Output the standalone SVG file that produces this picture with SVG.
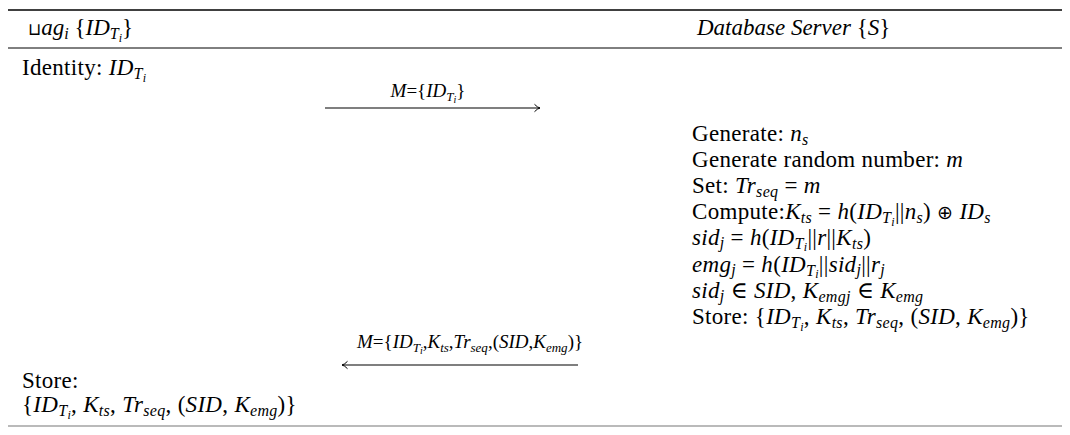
<svg xmlns="http://www.w3.org/2000/svg" width="1070" height="435" viewBox="0 0 1070 435">
  <style>
    text { font-family: "Liberation Serif", "DejaVu Serif", serif; font-size: 23px; letter-spacing: 0.3px; fill: #000; }
    text.hd { letter-spacing: 0; }
    .m { font-style: italic; }
    .s1 { font-size: 16px; }
    .s2 { font-size: 12px; }
    text.lbl { font-size: 19px; letter-spacing: 0; }
    .l1 { font-size: 13px; }
    .l2 { font-size: 10px; }
    .sym { font-family: "DejaVu Sans", sans-serif; font-style: normal; }
    .cup { font-size: 17px; }
    .oplus { font-size: 19px; }
    .rule { stroke: #000; }
    .msg { stroke: #000; stroke-width: 1.2; fill: none; marker-end: url(#tip); }
  </style>
  <defs>
    <marker id="tip" viewBox="0 0 10 10" refX="9.5" refY="5" markerWidth="10" markerHeight="10" markerUnits="userSpaceOnUse" orient="auto">
      <path d="M4,1.3 Q7,4.5 9.5,5 Q7,5.5 4,8.7" fill="none" stroke="#000" stroke-width="1"/>
    </marker>
  </defs>
  <rect width="1070" height="435" fill="#fff"/>

  <!-- table rules -->
  <g id="rules">
    <line class="rule" x1="8" y1="10" x2="1062" y2="10" stroke-width="1.6"/>
    <line class="rule" x1="8" y1="48" x2="1062" y2="48" stroke-width="1"/>
    <line x1="8" y1="426" x2="1062" y2="426" stroke="#777" stroke-width="1.2"/>
  </g>

  <!-- left party: tag -->
  <g id="tag">
    <text class="hd" x="28" y="35"><tspan class="sym cup">⊔</tspan><tspan class="m">ag</tspan><tspan class="m s1" dy="4">i</tspan><tspan dy="-4"> {</tspan><tspan class="m">ID</tspan><tspan class="m s1" dy="4">T</tspan><tspan class="m s2" dy="3">i</tspan><tspan dy="-7">}</tspan></text>
    <text x="22" y="75">Identity: <tspan class="m">ID</tspan><tspan class="m s1" dy="4">T</tspan><tspan class="m s2" dy="3">i</tspan></text>
    <text x="22" y="388">Store:</text>
    <text x="22" y="412">{<tspan class="m">ID</tspan><tspan class="m s1" dy="4">T</tspan><tspan class="m s2" dy="3">i</tspan><tspan dy="-7">, </tspan><tspan class="m">K</tspan><tspan class="m s1" dy="4">ts</tspan><tspan dy="-4">, </tspan><tspan class="m">Tr</tspan><tspan class="m s1" dy="4">seq</tspan><tspan dy="-4">, (</tspan><tspan class="m">SID</tspan>, <tspan class="m">K</tspan><tspan class="m s1" dy="4">emg</tspan><tspan dy="-4">)}</tspan></text>
  </g>

  <!-- right party: database server -->
  <g id="server">
    <text class="hd m" x="697" y="35">Database Server <tspan font-style="normal">{</tspan>S<tspan font-style="normal">}</tspan></text>
    <text x="692" y="141">Generate: <tspan class="m">n</tspan><tspan class="m s1" dy="4">s</tspan></text>
    <text x="692" y="167">Generate random number: <tspan class="m">m</tspan></text>
    <text x="692" y="193">Set: <tspan class="m">Tr</tspan><tspan class="m s1" dy="4">seq</tspan><tspan dy="-4"> = </tspan><tspan class="m">m</tspan></text>
    <text x="692" y="219">Compute:<tspan class="m">K</tspan><tspan class="m s1" dy="4">ts</tspan><tspan dy="-4"> = </tspan><tspan class="m">h</tspan>(<tspan class="m">ID</tspan><tspan class="m s1" dy="4">T</tspan><tspan class="m s2" dy="3">i</tspan><tspan dy="-7">||</tspan><tspan class="m">n</tspan><tspan class="m s1" dy="4">s</tspan><tspan dy="-4">) </tspan><tspan class="sym oplus">⊕</tspan> <tspan class="m">ID</tspan><tspan class="m s1" dy="4">s</tspan></text>
    <text x="692" y="245"><tspan class="m">sid</tspan><tspan class="m s1" dy="3">j</tspan><tspan dy="-3"> = </tspan><tspan class="m">h</tspan>(<tspan class="m">ID</tspan><tspan class="m s1" dy="4">T</tspan><tspan class="m s2" dy="2">i</tspan><tspan dy="-6">||</tspan><tspan class="m">r</tspan>||<tspan class="m">K</tspan><tspan class="m s1" dy="4">ts</tspan><tspan dy="-4">)</tspan></text>
    <text x="692" y="272"><tspan class="m">emg</tspan><tspan class="m s1" dy="3">j</tspan><tspan dy="-3"> = </tspan><tspan class="m">h</tspan>(<tspan class="m">ID</tspan><tspan class="m s1" dy="4">T</tspan><tspan class="m s2" dy="2">i</tspan><tspan dy="-6">||</tspan><tspan class="m">sid</tspan><tspan class="m s1" dy="3">j</tspan><tspan dy="-3">||</tspan><tspan class="m">r</tspan><tspan class="m s1" dy="3">j</tspan></text>
    <text x="692" y="298"><tspan class="m">sid</tspan><tspan class="m s1" dy="3">j</tspan><tspan dy="-3"> ∈ </tspan><tspan class="m">SID</tspan>, <tspan class="m">K</tspan><tspan class="m s1" dy="4">emgj</tspan><tspan dy="-4"> ∈ </tspan><tspan class="m">K</tspan><tspan class="m s1" dy="4">emg</tspan></text>
    <text x="692" y="324">Store: {<tspan class="m">ID</tspan><tspan class="m s1" dy="4">T</tspan><tspan class="m s2" dy="3">i</tspan><tspan dy="-7">, </tspan><tspan class="m">K</tspan><tspan class="m s1" dy="4">ts</tspan><tspan dy="-4">, </tspan><tspan class="m">Tr</tspan><tspan class="m s1" dy="4">seq</tspan><tspan dy="-4">, (</tspan><tspan class="m">SID</tspan>, <tspan class="m">K</tspan><tspan class="m s1" dy="4">emg</tspan><tspan dy="-4">)}</tspan></text>
  </g>

  <!-- messages exchanged between the two parties -->
  <g id="connectors">
    <line class="msg" x1="325" y1="108" x2="540" y2="108"/>
    <text class="lbl" x="428" y="97" text-anchor="middle"><tspan class="m">M</tspan>={<tspan class="m">ID</tspan><tspan class="m l1" dy="4">T</tspan><tspan class="m l2" dy="2">i</tspan><tspan dy="-6">}</tspan></text>
    <line class="msg" x1="578" y1="365" x2="342" y2="365"/>
    <text class="lbl" x="357" y="348"><tspan class="m">M</tspan>={<tspan class="m">ID</tspan><tspan class="m l1" dy="4">T</tspan><tspan class="m l2" dy="2">i</tspan><tspan dy="-6">,</tspan><tspan class="m">K</tspan><tspan class="m l1" dy="4">ts</tspan><tspan dy="-4">,</tspan><tspan class="m">Tr</tspan><tspan class="m l1" dy="4">seq</tspan><tspan dy="-4">,(</tspan><tspan class="m">SID</tspan>,<tspan class="m">K</tspan><tspan class="m l1" dy="4">emg</tspan><tspan dy="-4">)}</tspan></text>
  </g>
</svg>
